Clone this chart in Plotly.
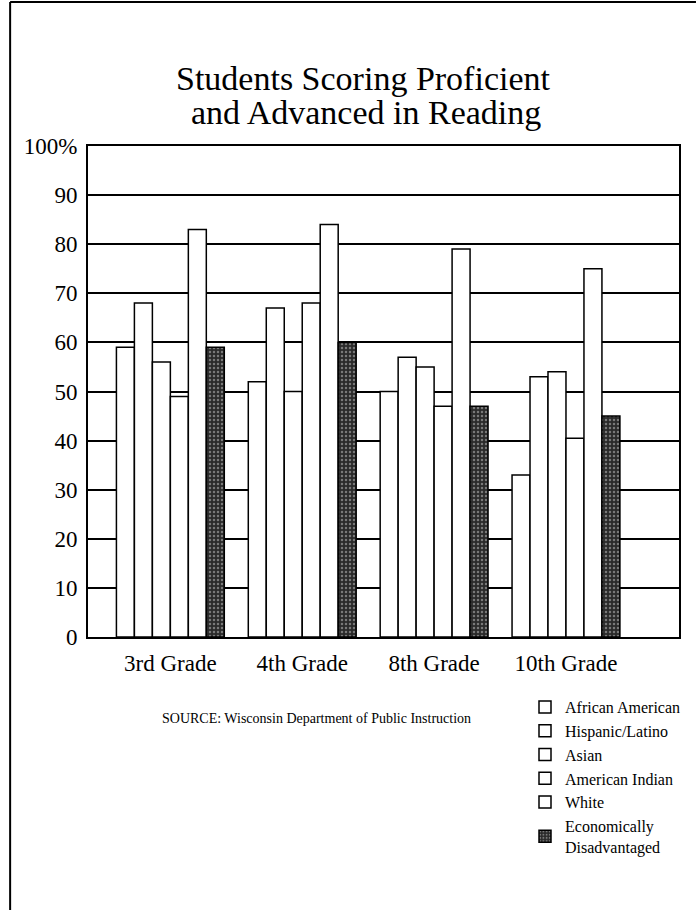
import plotly.graph_objects as go

grades = ["3rd Grade", "4th Grade", "8th Grade", "10th Grade"]
african_american = [59, 52, 50, 33]
hispanic_latino = [68, 67, 57, 53]
asian = [56, 50, 55, 54]
american_indian = [49, 68, 47, 40.5]
white = [83, 84, 79, 75]
econ_disadvantaged = [59, 60, 47, 45]

series_names = ["African American", "Hispanic/Latino", "Asian", "American Indian", "White",
                "Economically<br>Disadvantaged"]
series_values = [african_american, hispanic_latino, asian, american_indian, white, econ_disadvantaged]

y_tick_vals = [0, 10, 20, 30, 40, 50, 60, 70, 80, 90, 100]
y_tick_text = ["0", "10", "20", "30", "40", "50", "60", "70", "80", "90", "100%"]

FONT = "Liberation Serif"
W, H = 697, 910
L, R, T, B = 88, 17, 146, 273
PW, PH = W - L - R, H - T - B

def px_x(p):
    return (p - L) / PW

def px_y(p):
    return (H - B - p) / PH

xpos = list(range(len(grades)))

fig = go.Figure()
for i, (name, vals) in enumerate(zip(series_names, series_values)):
    if i == len(series_names) - 1:
        marker = dict(color="#2a2a2a", line=dict(color="black", width=1.5),
                      pattern=dict(shape=".", fgcolor="#c8c8c8", bgcolor="#2a2a2a",
                                   size=4, solidity=0.3))
    else:
        marker = dict(color="white", line=dict(color="black", width=1.5))
    fig.add_trace(go.Bar(x=xpos, y=vals, name=name, marker=marker,
                         legendgroup=str(i)))

fig.update_layout(
    width=W, height=H,
    margin=dict(l=L, r=R, t=T, b=B, pad=0),
    paper_bgcolor="white", plot_bgcolor="white",
    barmode="group", bargap=0.182, bargroupgap=0,
    font=dict(family=FONT, color="black"),
    showlegend=True,
    legend=dict(x=px_x(525), y=px_y(690), xanchor="left", yanchor="top",
                font=dict(family=FONT, size=16, color="black"),
                tracegroupgap=0, bgcolor="rgba(0,0,0,0)"),
    xaxis=dict(range=[-0.6245, 3.857], tickvals=xpos, ticktext=grades,
               showgrid=False, zeroline=False, showline=True, mirror=True,
               linecolor="black", linewidth=2, ticks="",
               tickfont=dict(family=FONT, size=23, color="black"),
               ticklabelstandoff=4),
    yaxis=dict(range=[0, 100], tickvals=y_tick_vals, ticktext=y_tick_text,
               showgrid=True, gridcolor="black", gridwidth=1.5, zeroline=False,
               showline=True, mirror=True, linecolor="black", linewidth=2, ticks="",
               tickfont=dict(family=FONT, size=23, color="black"),
               ticklabelstandoff=4),
)

fig.add_annotation(text="Students Scoring Proficient", xref="paper", yref="paper",
                   x=px_x(364), y=px_y(78), xanchor="center", yanchor="middle",
                   showarrow=False, font=dict(family=FONT, size=34, color="black"))
fig.add_annotation(text="and Advanced in Reading", xref="paper", yref="paper",
                   x=px_x(366), y=px_y(113), xanchor="center", yanchor="middle",
                   showarrow=False, font=dict(family=FONT, size=34, color="black"))
fig.add_annotation(text="SOURCE: Wisconsin Department of Public Instruction",
                   xref="paper", yref="paper", x=px_x(317), y=px_y(718),
                   xanchor="center", yanchor="middle", showarrow=False,
                   font=dict(family=FONT, size=14, color="black"))

# outer frame lines (left and top)
fig.add_shape(type="line", xref="paper", yref="paper",
              x0=px_x(10), x1=px_x(10), y0=px_y(910), y1=px_y(2),
              line=dict(color="black", width=2))
fig.add_shape(type="line", xref="paper", yref="paper",
              x0=px_x(10), x1=px_x(697), y0=px_y(2), y1=px_y(2),
              line=dict(color="black", width=2))

fig.write_html("out.html", config={"displayModeBar": False},
               post_script="document.body.style.margin='0';")
